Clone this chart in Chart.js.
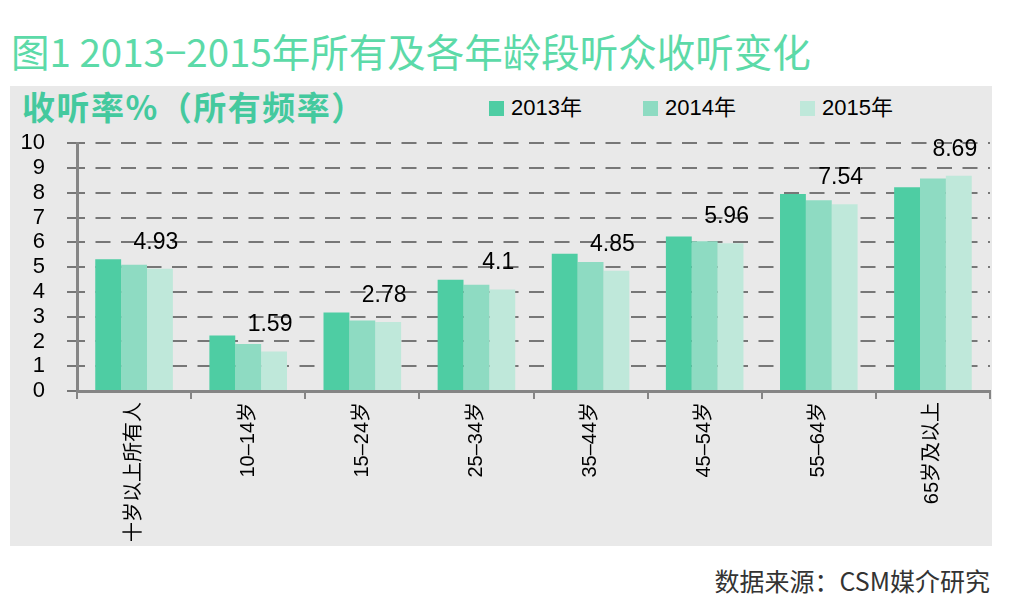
<!DOCTYPE html>
<html>
<head>
<meta charset="utf-8">
<script src="https://cdn.jsdelivr.net/npm/chart.js@4"></script>
<style>
  html, body { margin: 0; padding: 0; background: #ffffff; }
  body { width: 1024px; height: 616px; position: relative; overflow: hidden;
         font-family: "Liberation Sans", "Noto Sans CJK SC", sans-serif; }
  #title { position: absolute; left: 11px; top: 25px; font-size: 38.5px; color: #5cdaa8;
           font-family: "Noto Sans CJK SC", sans-serif; font-weight: 400; white-space: nowrap; line-height: 50px; }
  #panel { position: absolute; left: 10px; top: 86px; width: 982px; height: 460px; background: #e9e9e9; }
  #subtitle { position: absolute; left: 22px; top: 84px; font-size: 33px; color: #44c99e; font-weight: 700;
              letter-spacing: 1.5px;
              font-family: "Noto Sans CJK SC", sans-serif; white-space: nowrap; line-height: 44px; }
  #legend { position: absolute; top: 96px; left: 0; height: 24px; }
  .li { position: absolute; top: 0; white-space: nowrap; font-size: 22px; color: #000; line-height: 24px;
        font-family: "Liberation Sans", "Noto Sans CJK SC", sans-serif; }
  .li span.box { display: inline-block; width: 15px; height: 15px; margin-right: 7px; vertical-align: -1px; }
  #wrap { position: absolute; left: 10px; top: 108px; width: 982px; height: 438px; }
  #footer { position: absolute; right: 34px; top: 563px; font-size: 25px; color: #333;
            font-family: "Noto Sans CJK SC", sans-serif; white-space: nowrap; line-height: 34px; }
</style>
</head>
<body>
<div id="title">图1 2013−2015年所有及各年龄段听众收听变化</div>
<div id="panel"></div>
<div id="subtitle">收听率%（所有频率）</div>
<div id="legend"></div>
<div id="wrap"><canvas id="c"></canvas></div>
<div id="footer">数据来源：CSM媒介研究</div>
<script>
const categories = ["十岁以上所有人", "10–14岁", "15–24岁", "25–34岁", "35–44岁", "45–54岁", "55–64岁", "65岁及以上"];
const seriesNames = ["2013年", "2014年", "2015年"];
const values2013 = [5.32, 2.24, 3.17, 4.49, 5.54, 6.23, 7.95, 8.22];
const values2014 = [5.09, 1.90, 2.84, 4.29, 5.21, 6.04, 7.70, 8.58];
const values2015 = [4.93, 1.59, 2.78, 4.10, 4.85, 5.96, 7.54, 8.69];
const yTicks = [0, 1, 2, 3, 4, 5, 6, 7, 8, 9, 10];

const colors = ["#4ecda3", "#8edbc2", "#bfe8da"];

// HTML legend
const legendPos = [489, 643, 800];
const legend = document.getElementById('legend');
seriesNames.forEach((n, i) => {
  const d = document.createElement('div');
  d.className = 'li';
  d.style.left = legendPos[i] + 'px';
  d.innerHTML = '<span class="box" style="background:' + colors[i] + '"></span>' + n;
  legend.appendChild(d);
});

const labelPlugin = {
  id: 'labels2015',
  afterDatasetsDraw(chart) {
    const ctx = chart.ctx;
    const meta = chart.getDatasetMeta(2);
    ctx.save();
    ctx.font = '23px "Liberation Sans", sans-serif';
    ctx.fillStyle = '#000';
    ctx.textAlign = 'center';
    ctx.textBaseline = 'bottom';
    meta.data.forEach((bar, i) => {
      ctx.fillText(String(values2015[i]), bar.x - 4, bar.y - 15);
    });
    ctx.restore();
  }
};

new Chart(document.getElementById('c'), {
  type: 'bar',
  data: {
    labels: categories,
    datasets: [
      { label: seriesNames[0], data: values2013, backgroundColor: colors[0] },
      { label: seriesNames[1], data: values2014, backgroundColor: colors[1] },
      { label: seriesNames[2], data: values2015, backgroundColor: colors[2] }
    ]
  },
  options: {
    responsive: true,
    maintainAspectRatio: false,
    animation: false,
    layout: { padding: { top: 0, right: 2, left: 0, bottom: 0 } },
    plugins: { legend: { display: false }, tooltip: { enabled: false } },
    datasets: { bar: { categoryPercentage: 0.68, barPercentage: 1.0 } },
    scales: {
      x: {
        afterFit(scale) { scale.height = 155; },
        border: { color: '#858585', width: 3 },
        grid: { drawOnChartArea: false, drawTicks: true, tickLength: 8, color: '#858585', lineWidth: 2, offset: true },
        ticks: {
          minRotation: 90, maxRotation: 90, autoSkip: false, padding: 3,
          color: '#000',
          font: { family: '"Liberation Sans", "Noto Sans CJK SC", sans-serif', size: 20 }
        }
      },
      y: {
        min: 0, max: 10,
        afterFit(scale) { scale.width = 67; },
        afterBuildTicks(scale) { scale.ticks = yTicks.map(v => ({ value: v })); },
        border: { color: '#858585', width: 3, dash: [15, 10.5], dashOffset: 9 },
        grid: {
          color: (ctx) => ctx.tick && ctx.tick.value === 0 ? 'rgba(0,0,0,0)' : '#777777',
          lineWidth: 2,
          drawTicks: true, tickLength: 10, tickColor: '#777777', tickBorderDash: []
        },
        ticks: {
          autoSkip: false, stepSize: 1,
          padding: 22, color: '#000',
          font: { family: '"Liberation Sans", sans-serif', size: 22 }
        }
      }
    }
  },
  plugins: [labelPlugin]
});
</script>
</body>
</html>
